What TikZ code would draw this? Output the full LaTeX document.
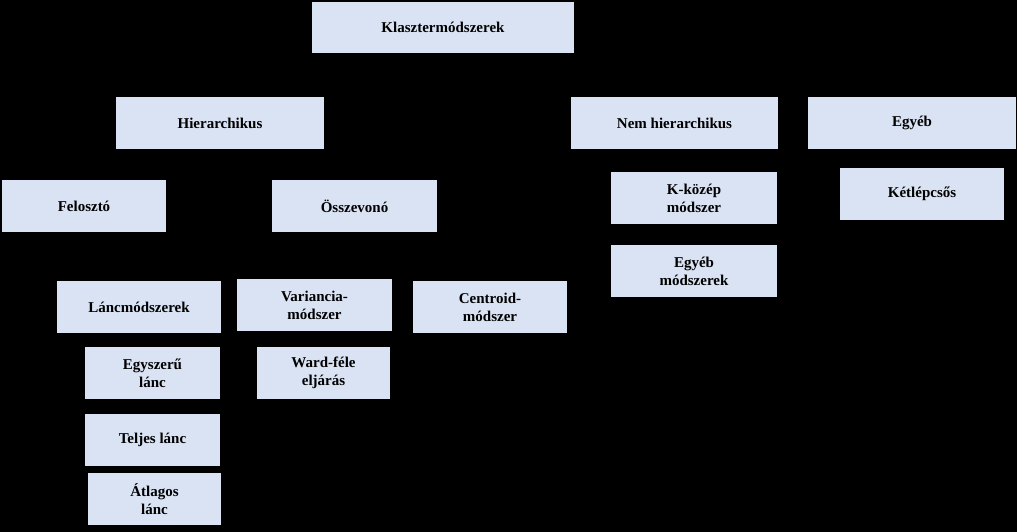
\documentclass[tikz,border=0pt]{standalone}
\usepackage{fontspec}
\setmainfont{Liberation Serif}
\definecolor{boxfill}{HTML}{DAE3F3}
\begin{document}
\begin{tikzpicture}[x=1pt,y=-1pt,
  bx/.style={fill=boxfill,draw=none,inner sep=0pt,align=center,font=\bfseries\fontsize{15}{18}\selectfont}]
\fill[black] (0,0) rectangle (1017,532);
\useasboundingbox (0,0) rectangle (1017,532);
\newcommand{\bxn}[6]{\node[bx,minimum width={#4-#2},minimum height={#5-#3}] (#1) at ({(#2+#4)/2},{(#3+#5)/2}) {#6};}
\bxn{k}{312}{2}{574}{53}{Klasztermódszerek}
\bxn{h}{116}{97}{324}{149}{Hierarchikus}
\bxn{nh}{571}{97}{778}{149}{Nem hierarchikus}
\bxn{e}{808}{97}{1016}{149}{Egyéb}
\bxn{f}{2}{180}{166}{232}{Felosztó}
\bxn{o}{272}{180}{437}{232}{Összevonó}
\bxn{kk}{611}{172}{777}{224}{K-közép\\módszer}
\bxn{kl}{840}{168}{1004}{220}{Kétlépcsős}
\bxn{em}{611}{245}{777}{297}{Egyéb\\módszerek}
\bxn{lm}{57}{281}{221}{333}{Láncmódszerek}
\bxn{vm}{237}{279}{392}{331}{Variancia-\\módszer}
\bxn{cm}{413}{281}{567}{333}{Centroid-\\módszer}
\bxn{el}{85}{347}{220}{399}{Egyszerű\\lánc}
\bxn{wf}{257}{347}{390}{399}{Ward-féle\\eljárás}
\bxn{tl}{85}{414}{220}{466}{Teljes lánc}
\bxn{al}{88}{473}{221}{525}{Átlagos\\lánc}
\end{tikzpicture}
\end{document}
